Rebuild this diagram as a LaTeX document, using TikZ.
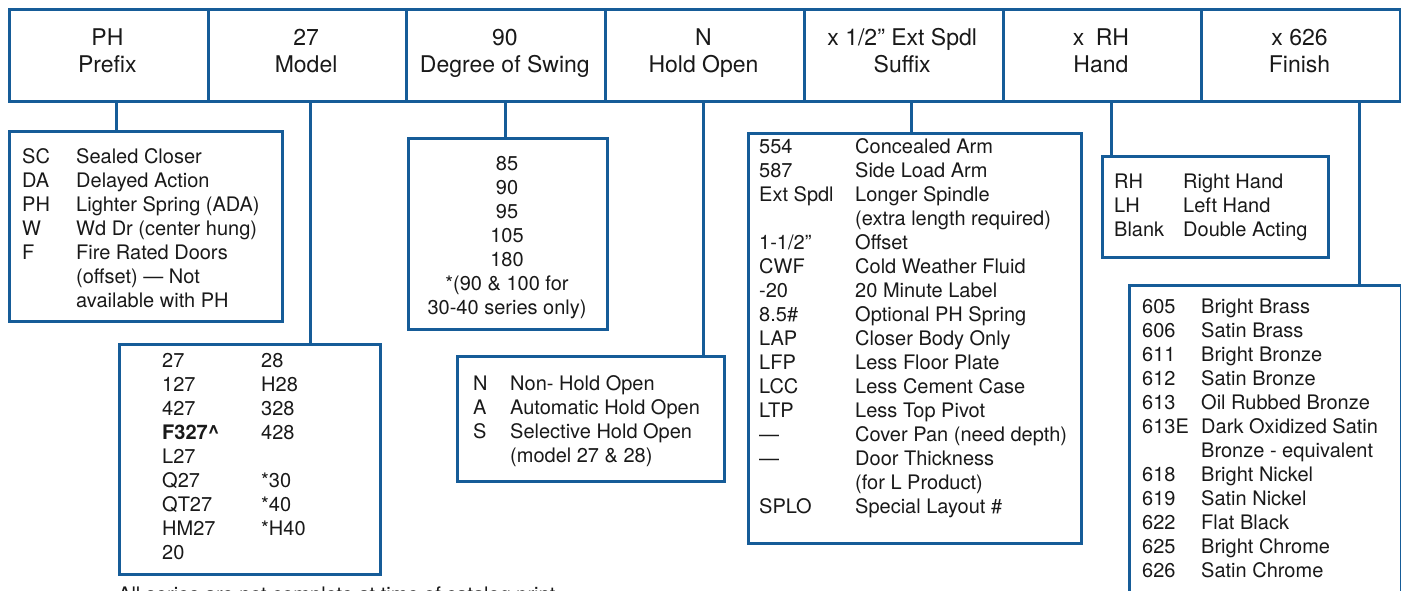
\documentclass[tikz,border=0pt]{standalone}
\usepackage{fontspec}
\setmainfont{TeX Gyre Heros}
\usepackage{array}
\definecolor{lineblue}{RGB}{22,92,152}
\definecolor{inkgray}{RGB}{25,25,25}
\newcommand{\twocol}[2]{\begin{tabular}[t]{@{}p{#1}@{}l@{}}#2\end{tabular}}
\newcommand{\hdtext}[2]{\begin{tabular}[t]{@{}c@{}}#1\\#2\end{tabular}}
\begin{document}
\begin{tikzpicture}[x=1pt,y=-1pt,
  hdr/.style={draw=lineblue,line width=3pt,minimum width=198.7pt,minimum height=92pt,inner sep=0,anchor=north west},
  htxt/.style={anchor=base,inner sep=0,text=inkgray,font=\fontsize{23}{27}\selectfont},
  infobox/.style={draw=lineblue,line width=3pt,inner sep=0,anchor=north west},
  conn/.style={draw=lineblue,line width=3pt},
  txt/.style={anchor=base west,inner sep=0,text=inkgray,font=\fontsize{20}{24}\selectfont},
  ctxt/.style={anchor=base,inner sep=0,text=inkgray,font=\fontsize{20}{24}\selectfont}]
\useasboundingbox (0,0) rectangle (1401,590);

% header cells
\node[hdr] (h1) at (8,8) {};
\node[hdr] (h2) at (206.7,8) {};
\node[hdr] (h3) at (405.4,8) {};
\node[hdr] (h4) at (604.1,8) {};
\node[hdr] (h5) at (802.8,8) {};
\node[hdr] (h6) at (1001.5,8) {};
\node[hdr] (h7) at (1200.2,8) {};

\node[htxt] (ht1) at (107.4,45) {\hdtext{PH}{Prefix}};
\node[htxt] (ht2) at (306.1,45) {\hdtext{27}{Model}};
\node[htxt] (ht3) at (504.8,45) {\hdtext{90}{Degree of Swing}};
\node[htxt] (ht4) at (703.5,45) {\hdtext{N}{Hold Open}};
\node[htxt] (ht5) at (902.2,45) {\hdtext{x 1/2" Ext Spdl}{Suffix}};
\node[htxt] (ht6) at (1100.9,45) {\hdtext{x\enspace RH}{Hand}};
\node[htxt] (ht7) at (1299.6,45) {\hdtext{x 626}{Finish}};

% option boxes
\node[infobox,minimum width=273pt,minimum height=190pt] (b1) at (8,130) {};
\node[infobox,minimum width=261pt,minimum height=230pt] (b2) at (118,343) {};
\node[infobox,minimum width=199pt,minimum height=191pt] (b3) at (407,137) {};
\node[infobox,minimum width=267pt,minimum height=125pt] (b4) at (456,355) {};
\node[infobox,minimum width=333pt,minimum height=410pt] (b5) at (747,132) {};
\node[infobox,minimum width=226pt,minimum height=101pt] (b6) at (1101,155) {};
\node[infobox,minimum width=272pt,minimum height=340pt] (b7) at (1128,284) {};

% connector positions
\coordinate (c1) at (116,0);
\coordinate (c2) at (310,0);
\coordinate (c3) at (505,0);
\coordinate (c4) at (703,0);
\coordinate (c5) at (911,0);
\coordinate (c6) at (1111,0);
\coordinate (c7) at (1359,0);
\draw[conn] (h1.south -| c1) -- (b1.north -| c1);
\draw[conn] (h2.south -| c2) -- (b2.north -| c2);
\draw[conn] (h3.south -| c3) -- (b3.north -| c3);
\draw[conn] (h4.south -| c4) -- (b4.north -| c4);
\draw[conn] (h5.south -| c5) -- (b5.north -| c5);
\draw[conn] (h6.south -| c6) -- (b6.north -| c6);
\draw[conn] (h7.south -| c7) -- (b7.north -| c7);

% texts
\node[txt] (t1) at (22,163) {\twocol{54pt}{
SC & Sealed Closer\\
DA & Delayed Action\\
PH & Lighter Spring (ADA)\\
W & Wd Dr (center hung)\\
F & Fire Rated Doors\\
 & (offset) --- Not\\
 & available with PH}};

\node[txt] (t2) at (162,367) {\twocol{99pt}{
27 & 28\\
127 & H28\\
427 & 328\\
\textbf{F327\textasciicircum} & 428\\
L27 & \\
Q27 & {*}30\\
QT27 & {*}40\\
HM27 & {*}H40\\
20 & }};

\node[ctxt] (t3) at (507,170) {\begin{tabular}[t]{@{}c@{}}
85\\ 90\\ 95\\ 105\\ 180\\ {*}(90 \& 100 for\\ 30-40 series only)\end{tabular}};

\node[txt] (t4) at (473,390) {\twocol{37pt}{
N & Non- Hold Open\\
A & Automatic Hold Open\\
S & Selective Hold Open\\
 & (model 27 \& 28)}};

\node[txt] (t5) at (759,153) {\twocol{96pt}{
554 & Concealed Arm\\
587 & Side Load Arm\\
Ext Spdl & Longer Spindle\\
 & (extra length required)\\
1-1/2'' & Offset\\
CWF & Cold Weather Fluid\\
-20 & 20 Minute Label\\
8.5\# & Optional PH Spring\\
LAP & Closer Body Only\\
LFP & Less Floor Plate\\
LCC & Less Cement Case\\
LTP & Less Top Pivot\\
--- & Cover Pan (need depth)\\
--- & Door Thickness\\
 & (for L Product)\\
SPLO & Special Layout \#}};

\node[txt] (t6) at (1114,188) {\twocol{69pt}{
RH & Right Hand\\
LH & Left Hand\\
Blank & Double Acting}};

\node[txt] (t7) at (1142,313) {\twocol{59pt}{
605 & Bright Brass\\
606 & Satin Brass\\
611 & Bright Bronze\\
612 & Satin Bronze\\
613 & Oil Rubbed Bronze\\
613E & Dark Oxidized Satin\\
 & Bronze - equivalent\\
618 & Bright Nickel\\
619 & Satin Nickel\\
622 & Flat Black\\
625 & Bright Chrome\\
626 & Satin Chrome}};

\node[txt] (t8) at (118,601) {All series are not complete at time of catalog print};
\end{tikzpicture}
\end{document}
